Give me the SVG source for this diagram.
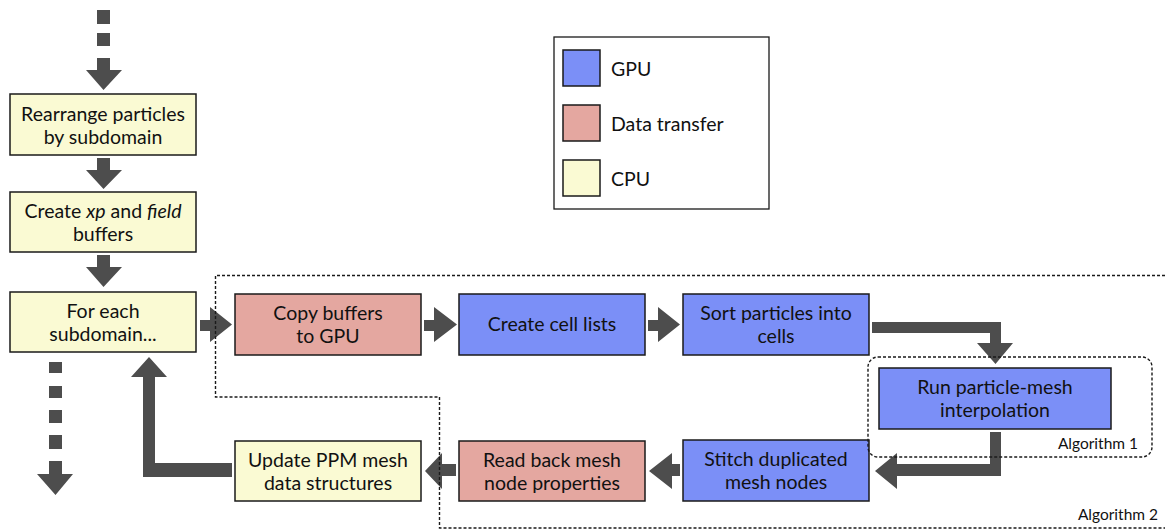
<svg xmlns="http://www.w3.org/2000/svg" width="1165" height="532" viewBox="0 0 1165 532">
  <style>
    .box { stroke: #1a1a1a; stroke-width: 1.5; }
    .gpu { fill: #7b8ff7; }
    .xfer { fill: #e4a7a0; }
    .cpu { fill: #fafad3; }
    .lbl { font-family: Lato, "Open Sans", sans-serif; font-size: 19.5px; fill: #111; text-anchor: middle; }
    .leg { font-family: Lato, "Open Sans", sans-serif; font-size: 19.5px; fill: #111; }
    .alg { font-family: Lato, "Open Sans", sans-serif; font-size: 15.5px; fill: #111; text-anchor: end; }
    .arrow { fill: #4d4d4d; }
    .region { fill: none; stroke: #1a1a1a; stroke-width: 1.4; stroke-dasharray: 3 2; }
  </style>

  <!-- legend -->
  <g id="legend">
    <rect x="554" y="37" width="215" height="172" fill="#fff" stroke="#1a1a1a" stroke-width="1.3"/>
    <rect class="box gpu" x="563" y="50" width="37" height="36"/>
    <rect class="box xfer" x="563" y="105" width="37" height="36"/>
    <rect class="box cpu" x="563" y="160" width="37" height="36"/>
    <text class="leg" x="611" y="76">GPU</text>
    <text class="leg" x="611" y="131">Data transfer</text>
    <text class="leg" x="611" y="186">CPU</text>
  </g>

  <!-- connectors -->
  <g id="connectors">
    <!-- incoming dashed arrow -->
    <rect class="arrow" x="97" y="10" width="13" height="14"/>
    <rect class="arrow" x="97" y="33" width="13" height="13"/>
    <polygon class="arrow" points="97,58 110,58 110,70 122,70 103.5,90 86,70 97,70"/>
    <!-- rearrange -> buffers -->
    <polygon class="arrow" points="97,158 110,158 110,170 122,170 103.5,189 86,170 97,170"/>
    <!-- buffers -> for each -->
    <polygon class="arrow" points="97,255 110,255 110,267 122,267 103.5,287 86,267 97,267"/>
    <!-- outgoing dashed arrow -->
    <rect class="arrow" x="49" y="362" width="13" height="11"/>
    <rect class="arrow" x="49" y="386" width="13" height="12"/>
    <rect class="arrow" x="49" y="410" width="13" height="13"/>
    <rect class="arrow" x="49" y="435" width="13" height="14"/>
    <polygon class="arrow" points="49,461 62,461 62,474 73,474 55.5,495 37,474 49,474"/>
    <!-- loop back to for each -->
    <polygon class="arrow" points="232,463 155,463 155,377 167,377 149,357 131,377 143,377 143,477 232,477"/>
    <!-- for each -> copy -->
    <polygon class="arrow" points="200,320 210,320 210,307 232,324.5 210,342 210,331 200,331"/>
    <!-- copy -> cell lists -->
    <polygon class="arrow" points="424,320 434,320 434,307 457,324.5 434,342 434,331 424,331"/>
    <!-- cell lists -> sort -->
    <polygon class="arrow" points="648,320 658,320 658,307 680,324.5 658,342 658,331 648,331"/>
    <!-- sort -> interpolation -->
    <polygon class="arrow" points="872,322 1001,322 1001,343 1013,343 995.5,364 977,343 990,343 990,333 872,333"/>
    <!-- interpolation -> stitch -->
    <polygon class="arrow" points="990,432 1001,432 1001,476 897,476 897,489 875,471 897,453 897,464 990,464"/>
    <!-- stitch -> read back -->
    <polygon class="arrow" points="680,464 680,476 672,476 672,489 649,471 672,453 672,464"/>
    <!-- read back -> update -->
    <polygon class="arrow" points="456,464 456,476 442,476 442,489 425,471 442,453 442,464"/>
  </g>

  <!-- CPU steps -->
  <g id="rearrange">
    <rect class="box cpu" x="10" y="94" width="186" height="61"/>
    <text class="lbl" x="103" y="121">Rearrange particles</text>
    <text class="lbl" x="103" y="144">by subdomain</text>
  </g>
  <g id="create-buffers">
    <rect class="box cpu" x="10" y="192" width="186" height="60"/>
    <text class="lbl" x="103" y="218">Create <tspan font-style="italic">xp</tspan> and <tspan font-style="italic">field</tspan></text>
    <text class="lbl" x="103" y="241">buffers</text>
  </g>
  <g id="for-each">
    <rect class="box cpu" x="10" y="292" width="186" height="60"/>
    <text class="lbl" x="103" y="318">For each</text>
    <text class="lbl" x="103" y="341">subdomain...</text>
  </g>
  <g id="update-ppm">
    <rect class="box cpu" x="235" y="441" width="186" height="60"/>
    <text class="lbl" x="328" y="467">Update PPM mesh</text>
    <text class="lbl" x="328" y="490">data structures</text>
  </g>

  <!-- transfers -->
  <g id="copy-buffers">
    <rect class="box xfer" x="235" y="294" width="186" height="61"/>
    <text class="lbl" x="328" y="320">Copy buffers</text>
    <text class="lbl" x="328" y="343">to GPU</text>
  </g>
  <g id="read-back">
    <rect class="box xfer" x="459" y="441" width="186" height="60"/>
    <text class="lbl" x="552" y="467">Read back mesh</text>
    <text class="lbl" x="552" y="490">node properties</text>
  </g>

  <!-- GPU kernels -->
  <g id="cell-lists">
    <rect class="box gpu" x="459" y="294" width="186" height="61"/>
    <text class="lbl" x="552" y="331">Create cell lists</text>
  </g>
  <g id="sort-particles">
    <rect class="box gpu" x="683" y="294" width="186" height="61"/>
    <text class="lbl" x="776" y="320">Sort particles into</text>
    <text class="lbl" x="776" y="343">cells</text>
  </g>
  <g id="interpolation">
    <rect class="box gpu" x="879" y="368" width="232" height="61"/>
    <text class="lbl" x="995" y="394">Run particle-mesh</text>
    <text class="lbl" x="995" y="417">interpolation</text>
  </g>
  <g id="stitch">
    <rect class="box gpu" x="683" y="440" width="186" height="61"/>
    <text class="lbl" x="776" y="466">Stitch duplicated</text>
    <text class="lbl" x="776" y="489">mesh nodes</text>
  </g>

  <!-- algorithm regions -->
  <g id="algorithm-2">
    <path class="region" d="M1165,275.5 H215.5 V397 H439.5 V528 H1165"/>
    <text class="alg" x="1158" y="520">Algorithm 2</text>
  </g>
  <g id="algorithm-1">
    <rect class="region" x="868" y="357" width="284" height="100" rx="10"/>
    <text class="alg" x="1138" y="449">Algorithm 1</text>
  </g>
</svg>
